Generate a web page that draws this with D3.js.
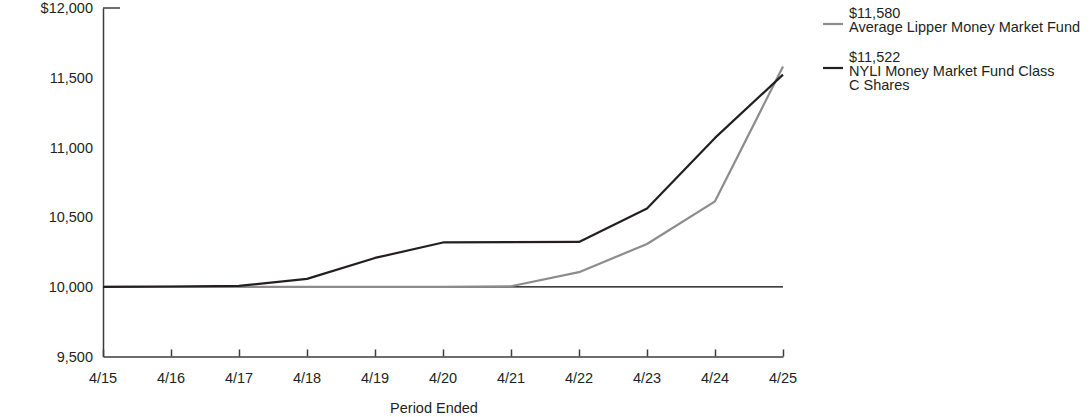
<!DOCTYPE html>
<html>
<head>
<meta charset="utf-8">
<script src="https://cdn.jsdelivr.net/npm/d3@7"></script>
<style>
  body { margin: 0; background: #fff; }
  svg text { font-family: "Liberation Sans", Arial, sans-serif; fill: #231f20; }
</style>
</head>
<body>
<svg id="chart" width="1092" height="417"></svg>
<script>
// chart values
var periods = ['4/15','4/16','4/17','4/18','4/19','4/20','4/21','4/22','4/23','4/24','4/25'];
var lipperValues = [10000, 10000, 10000, 10000, 10000, 10000, 10004, 10105, 10307, 10613, 11580];
var nyliValues = [10000, 10002, 10006, 10057, 10207, 10318, 10320, 10322, 10562, 11068, 11522];
var yTicks = [9500, 10000, 10500, 11000, 11500, 12000];
var seriesNames = ['Average Lipper Money Market Fund', 'NYLI Money Market Fund Class C Shares'];
var endLabels = ['$11,580', '$11,522'];

var svg = d3.select('#chart');
var plotLeft = 103, plotRight = 783, plotTop = 8, plotBottom = 356.5;
var fontSize = '14.5px';

var x = d3.scalePoint().domain(periods).range([plotLeft, plotRight]);
var y = d3.scaleLinear().domain([9500, 12000]).range([plotBottom, plotTop]);

var fmt = d3.format(',');

// y axis: line only, labels to the left
var yAxis = d3.axisLeft(y).tickValues(yTicks).tickSize(0).tickPadding(10)
	.tickFormat(function(d){ return d === 12000 ? '$' + fmt(d) : fmt(d); });
var gy = svg.append('g').attr('transform', 'translate(' + plotLeft + ',0)').call(yAxis);
gy.select('.domain').attr('stroke', '#3c3c3c').attr('stroke-width', 1.5);
gy.selectAll('text').style('font-size', fontSize).attr('fill', '#231f20').attr('font-family', null);

// short cap at top of the y axis
svg.append('line')
	.attr('x1', plotLeft).attr('x2', plotLeft + 17)
	.attr('y1', y(12000)).attr('y2', y(12000))
	.attr('stroke', '#3c3c3c').attr('stroke-width', 1.5);

// x axis with ticks pointing up
var xAxis = d3.axisTop(x).tickSize(7).tickSizeOuter(0).tickFormat('');
var gx = svg.append('g').attr('transform', 'translate(0,' + plotBottom + ')').call(xAxis);
gx.select('.domain').attr('stroke', '#3c3c3c').attr('stroke-width', 1.5);
gx.selectAll('.tick line').attr('stroke', '#3c3c3c').attr('stroke-width', 1.5);

svg.append('g').selectAll('text')
	.data(periods)
	.enter()
		.append('text')
			.attr('x', function(d){ return x(d); })
			.attr('y', plotBottom + 26)
			.attr('text-anchor', 'middle')
			.style('font-size', fontSize)
			.text(function(d){ return d; });

svg.append('text')
	.attr('x', 434).attr('y', 413)
	.attr('text-anchor', 'middle')
	.style('font-size', fontSize)
	.text('Period Ended');

// 10,000 reference line
svg.append('line')
	.attr('x1', plotLeft).attr('x2', plotRight)
	.attr('y1', y(10000)).attr('y2', y(10000))
	.attr('stroke', '#000').attr('stroke-width', 1.2);

var line = d3.line()
	.x(function(d, i){ return x(periods[i]); })
	.y(function(d){ return y(d); });

svg.append('path')
	.datum(lipperValues)
	.attr('d', line)
	.attr('fill', 'none')
	.attr('stroke', '#8c8c8c')
	.attr('stroke-width', 2.2)
	.attr('stroke-linejoin', 'round');

svg.append('path')
	.datum(nyliValues)
	.attr('d', line)
	.attr('fill', 'none')
	.attr('stroke', '#231f20')
	.attr('stroke-width', 2.2)
	.attr('stroke-linejoin', 'round');

// legend
var legendColors = ['#8c8c8c', '#231f20'];
var legendTop = [18, 62];
var legendLines = [[seriesNames[0]], ['NYLI Money Market Fund Class', 'C Shares']];
var lg = svg.append('g');
legendColors.forEach(function(c, i){
	lg.append('line')
		.attr('x1', 823).attr('x2', 843)
		.attr('y1', legendTop[i] + 6).attr('y2', legendTop[i] + 6)
		.attr('stroke', c).attr('stroke-width', 2.2);
	var t = lg.append('text')
		.attr('x', 849).attr('y', legendTop[i])
		.style('font-size', fontSize);
	t.append('tspan').attr('x', 849).attr('dy', 0).text(endLabels[i]);
	legendLines[i].forEach(function(s){
		t.append('tspan').attr('x', 849).attr('dy', 14).text(s);
	});
});
</script>
</body>
</html>
